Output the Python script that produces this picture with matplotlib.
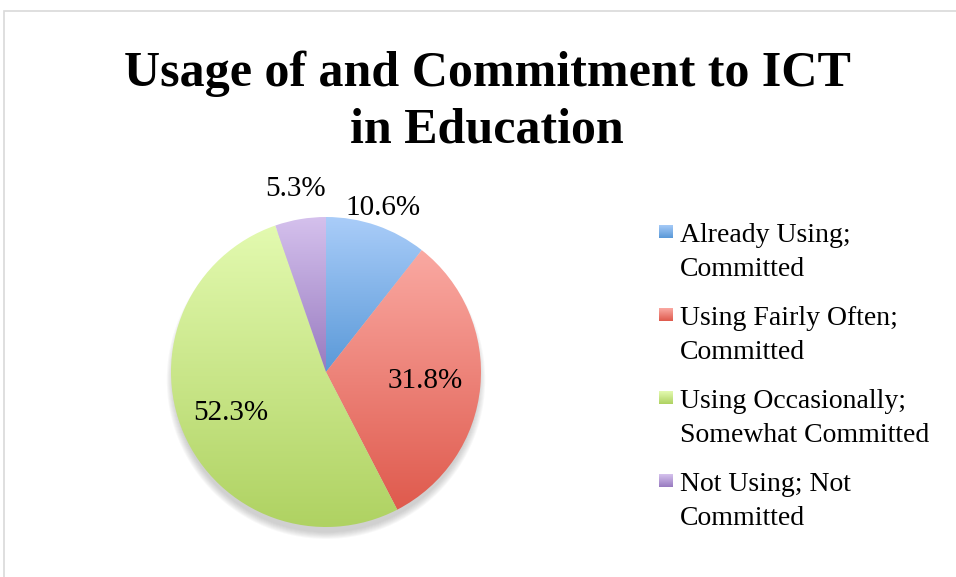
import numpy as np
import matplotlib as mpl
import matplotlib.pyplot as plt
from matplotlib.patches import Rectangle, Circle
from matplotlib.colors import to_rgb

mpl.use('Agg')

# data
categories = ['Already Using;\nCommitted',
              'Using Fairly Often;\nCommitted',
              'Using Occasionally;\nSomewhat Committed',
              'Not Using; Not\nCommitted']
shares = [10.6, 31.8, 52.3, 5.3]
# gradient (top, bottom) colour for each slice
top_colors = ['#AACDF9', '#FAA9A2', '#E3FAB0', '#D5C1ED']
bottom_colors = ['#5A99D8', '#DF5A4D', '#AFD262', '#987BC0']
title = 'Usage of and Commitment to ICT\nin Education'

W, H = 956, 577
plt.rcParams['font.family'] = ['Liberation Serif', 'DejaVu Serif']

fig = plt.figure(figsize=(W / 100, H / 100), dpi=100)

# light grey chart border (runs off the right and bottom edges)
fig.add_artist(Rectangle((4 / W, -0.1), 1.2, (H - 11) / H + 0.1, transform=fig.transFigure,
                         fill=False, edgecolor='#D9D9D9', linewidth=1.2))

# pie axes: centre (326, 372) px, radius 155 px
cx, cy, r = 326, 372, 155
ax = fig.add_axes([(cx - r) / W, (H - cy - r) / H, 2 * r / W, 2 * r / H])


def grad_img(c_top, c_bot, n=256):
    t = np.linspace(0, 1, n)[:, None, None]
    return (1 - t) * np.array(to_rgb(c_top)) + t * np.array(to_rgb(c_bot))


# soft shadow under the pie, mostly below it
for k in range(8):
    ax.add_patch(Circle((0.0, -0.05), 0.985 + 0.006 * k, color='#7F7F7F', alpha=0.05,
                        zorder=0, lw=0, clip_on=False))

wedges, _ = ax.pie(shares, startangle=90, counterclock=False, radius=1,
                   wedgeprops=dict(linewidth=0))

for w, ct, cb in zip(wedges, top_colors, bottom_colors):
    x0, y0, x1, y1 = w.get_path().get_extents().extents
    w.set_facecolor('none')
    ax.imshow(grad_img(ct, cb), extent=(x0, x1, y0, y1), origin='upper',
              aspect='auto', clip_path=w, zorder=1, interpolation='bilinear')

# percentage labels, some outside the slice
label_dist = [1.12, 0.64, 0.67, 1.2]
for w, val, d in zip(wedges, shares, label_dist):
    ang = np.deg2rad((w.theta1 + w.theta2) / 2)
    ax.text(d * np.cos(ang), d * np.sin(ang), f'{val:.1f}%', ha='center', va='center',
            fontsize=21, color='black', zorder=5)

ax.set_xlim(-1, 1)
ax.set_ylim(-1, 1)
ax.set_aspect('equal')
ax.axis('off')

# title
fig.text(487 / W, (H - 102) / H, title, ha='center', va='center', fontsize=36,
         fontweight='bold', linespacing=1.28)

# legend, drawn by hand so the swatch sits on the first text line
for i, (lab, ct, cb) in enumerate(zip(categories, top_colors, bottom_colors)):
    top = 225 + 83 * i
    sw = fig.add_axes([659 / W, (H - top - 13) / H, 14 / W, 13 / H])
    sw.imshow(grad_img(ct, cb, 32), aspect='auto', extent=(0, 1, 0, 1))
    sw.axis('off')
    fig.text(680 / W, (H - top + 2) / H, lab, ha='left', va='top', fontsize=20,
             linespacing=1.45)

fig.savefig('out.png', dpi=100)
